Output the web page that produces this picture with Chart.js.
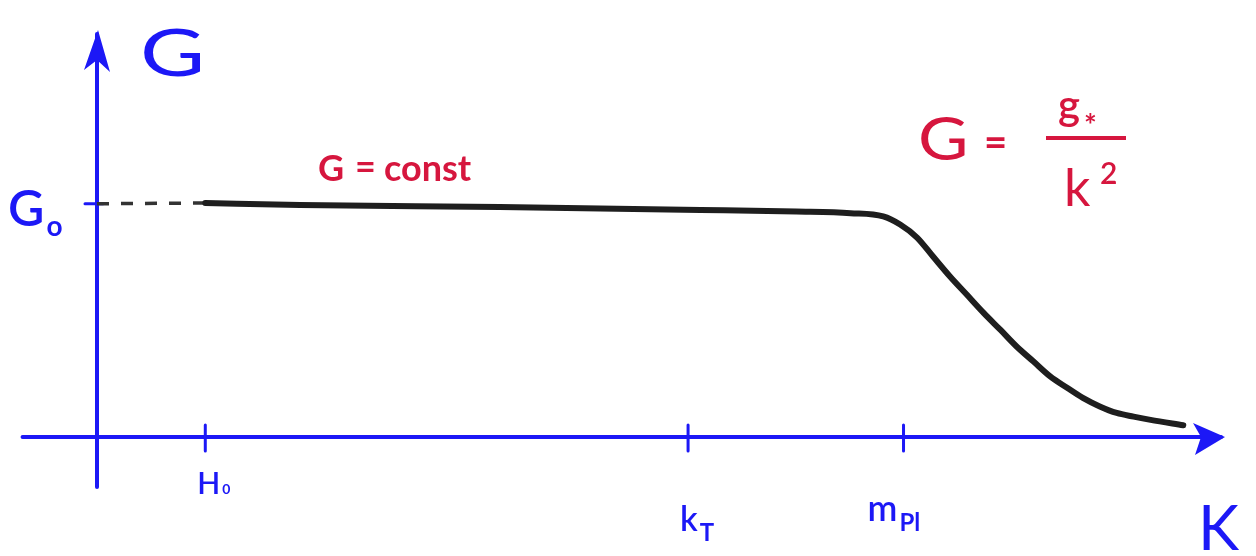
<!DOCTYPE html>
<html>
<head>
<meta charset="utf-8">
<script src="https://cdn.jsdelivr.net/npm/chart.js@4"></script>
<style>
  html, body { margin: 0; padding: 0; background: #fff; }
  #wrap { width: 1256px; height: 556px; }
</style>
</head>
<body>
<div id="wrap"><canvas id="grafico" width="1256" height="556"></canvas></div>
<script>
// k (arbitrary units along the axis) and G
const kValores = [9.6, 18.0, 35.7, 53.5, 62.0, 66.8, 69.7, 71.2, 72.7, 74.1, 75.6, 77.1, 78.6, 80.1, 81.5, 83.0, 84.5, 86.0, 87.4, 88.9, 90.4, 91.9, 93.4, 96.3];
const gValores = [57.5, 57.0, 56.5, 55.8, 55.4, 55.0, 54.2, 52.2, 49.0, 44.4, 39.5, 35.0, 30.5, 26.3, 22.3, 18.6, 14.9, 12.1, 9.6, 7.5, 5.9, 5.0, 4.2, 2.9];

// dashed continuation back to the G axis
const kGuia = [0, 9.6];
const gGuia = [57.3, 57.5];

// marks on the k axis
const kMarcas = [9.6, 52.4, 71.5];
const etiquetasK = [['H', '0'], ['k', 'T'], ['m', 'Pl']];
const G0 = 57.3;

const AZUL = 'rgb(28, 24, 246)';
const ROJO = 'rgb(214, 22, 62)';
const FUENTE = '"Lato", "DejaVu Sans", sans-serif';

const ejes = {
    id: 'ejes',
    beforeDatasetsDraw(chart) {
        const ctx = chart.ctx;
        const x = chart.scales.x, y = chart.scales.y;
        const x0 = x.getPixelForValue(0), y0 = y.getPixelForValue(0);
        ctx.save();
        ctx.strokeStyle = AZUL;
        ctx.fillStyle = AZUL;
        ctx.lineWidth = 4;
        ctx.lineCap = 'round';

        // k axis
        const xFin = x.getPixelForValue(100);
        ctx.beginPath();
        ctx.moveTo(x.getPixelForValue(-6.6), y0);
        ctx.lineTo(xFin - 4, y0);
        ctx.stroke();
        ctx.beginPath();
        ctx.moveTo(xFin, y0);
        ctx.lineTo(xFin - 32, y0 - 14);
        ctx.lineTo(xFin - 24, y0);
        ctx.lineTo(xFin - 30, y0 + 18);
        ctx.closePath();
        ctx.fill();

        // G axis
        const yFin = y.getPixelForValue(100);
        ctx.beginPath();
        ctx.moveTo(x0, y.getPixelForValue(-12.3));
        ctx.lineTo(x0, yFin + 4);
        ctx.stroke();
        ctx.beginPath();
        ctx.moveTo(x0 + 1, yFin);
        ctx.lineTo(x0 - 13, yFin + 40);
        ctx.lineTo(x0, yFin + 30);
        ctx.lineTo(x0 + 13, yFin + 42);
        ctx.closePath();
        ctx.fill();

        // tick marks
        ctx.lineWidth = 3;
        kMarcas.forEach(k => {
            const px = x.getPixelForValue(k);
            ctx.beginPath();
            ctx.moveTo(px, y0 - 12);
            ctx.lineTo(px, y0 + 14);
            ctx.stroke();
        });
        const pG0 = y.getPixelForValue(G0);
        ctx.beginPath();
        ctx.moveTo(x0 - 12, pG0);
        ctx.lineTo(x0 + 6, pG0);
        ctx.stroke();
        ctx.restore();
    },
    afterDraw(chart) {
        const ctx = chart.ctx;
        const x = chart.scales.x, y = chart.scales.y;
        const y0 = y.getPixelForValue(0);
        ctx.save();
        ctx.textBaseline = 'alphabetic';

        const conSub = (base, sub, px, py, t1, t2, dy) => {
            ctx.font = '600 ' + t1 + 'px ' + FUENTE;
            ctx.fillText(base, px, py);
            const w = ctx.measureText(base).width;
            ctx.font = 'bold ' + t2 + 'px ' + FUENTE;
            ctx.fillText(sub, px + w + 2, py + dy);
        };

        ctx.fillStyle = AZUL;
        // labels under the marks
        const bases = [y0 + 57, y0 + 94, y0 + 84];
        const tam = [30, 34, 36];
        kMarcas.forEach((k, i) => {
            const px = x.getPixelForValue(k);
            const [b, s] = etiquetasK[i];
            const off = i === 2 ? -36 : -8;
            conSub(b, s, px + off, bases[i], tam[i], i === 0 ? 14 : 24, i === 0 ? 0 : 10);
        });

        // axis names
        ctx.save();
        ctx.translate(140, 76);
        ctx.scale(1.35, 1);
        ctx.font = '66px ' + FUENTE;
        ctx.fillText('G', 0, 0);
        ctx.restore();
        ctx.font = '62px ' + FUENTE;
        ctx.fillText('K', 1198, 550);
        conSub('G', 'o', 8, y.getPixelForValue(G0) + 22, 50, 28, 10);

        // formulas
        ctx.fillStyle = ROJO;
        ctx.font = 'bold 36px ' + FUENTE;
        ctx.fillText('G', 318, 181);
        ctx.fillText('=', 355, 179);
        ctx.fillText('const', 384, 181);

        ctx.save();
        ctx.translate(918, 160);
        ctx.scale(1.15, 1);
        ctx.font = '60px ' + FUENTE;
        ctx.fillText('G', 0, 0);
        ctx.restore();
        ctx.font = 'bold 40px ' + FUENTE;
        ctx.fillText('=', 984, 156);
        ctx.fillRect(1046, 136, 80, 4);
        ctx.font = '600 42px ' + FUENTE;
        ctx.fillText('g', 1058, 120);
        ctx.font = 'bold 30px ' + FUENTE;
        ctx.fillText('*', 1084, 136);
        ctx.font = '52px ' + FUENTE;
        ctx.fillText('k', 1064, 206);
        ctx.font = '600 30px ' + FUENTE;
        ctx.fillText('2', 1100, 184);
        ctx.restore();
    }
};

new Chart(document.getElementById('grafico'), {
    type: 'scatter',
    data: {
        datasets: [
            {
                data: kValores.map((k, i) => ({ x: k, y: gValores[i] })),
                showLine: true,
                borderColor: '#1e1e1e',
                borderWidth: 6,
                borderCapStyle: 'round',
                borderJoinStyle: 'round',
                cubicInterpolationMode: 'monotone',
                pointRadius: 0
            },
            {
                data: kGuia.map((k, i) => ({ x: k, y: gGuia[i] })),
                showLine: true,
                borderColor: '#333',
                borderWidth: 3.5,
                borderDash: [12, 12],
                pointRadius: 0
            }
        ]
    },
    options: {
        responsive: false,
        animation: false,
        layout: { padding: { left: 97, top: 30, right: 31, bottom: 119 } },
        plugins: { legend: { display: false }, tooltip: { enabled: false } },
        scales: {
            x: { type: 'linear', min: 0, max: 100, display: false },
            y: { type: 'linear', min: 0, max: 100, display: false }
        }
    },
    plugins: [ejes]
});
</script>
</body>
</html>
